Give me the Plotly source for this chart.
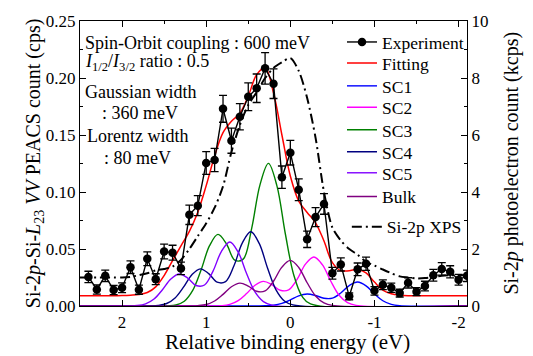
import plotly.graph_objects as go

# ---------------- data ----------------
exp_E = [2.4, 2.3, 2.2, 2.1, 2.0, 1.9, 1.8, 1.7, 1.6, 1.5, 1.4, 1.3, 1.2, 1.1, 1.0,
         0.9, 0.8, 0.7, 0.6, 0.5, 0.4, 0.3, 0.2, 0.1, 0.0, -0.1, -0.2, -0.3, -0.4,
         -0.5, -0.6, -0.7, -0.8, -0.9, -1.0, -1.1, -1.2, -1.3, -1.4, -1.5, -1.6,
         -1.7, -1.8, -1.9, -2.0, -2.1]
exp_I = [0.0255, 0.0145, 0.0265, 0.0140, 0.0160, 0.0340, 0.0143, 0.0415, 0.0235,
         0.0478, 0.0468, 0.0330, 0.0800, 0.0880, 0.1255, 0.1280, 0.1730, 0.1450,
         0.1660, 0.1835, 0.1910, 0.2085, 0.1950, 0.1130, 0.1345, 0.1020, 0.0585,
         0.0780, 0.0895, 0.0287, 0.0365, 0.0085, 0.0322, 0.0370, 0.0133, 0.0187,
         0.0160, 0.0113, 0.0203, 0.0126, 0.0175, 0.0270, 0.0325, 0.0300, 0.0230,
         0.0265]
exp_err = [0.0050, 0.0040, 0.0050, 0.0040, 0.0042, 0.0055, 0.0040, 0.0060, 0.0048,
           0.0065, 0.0065, 0.0055, 0.0085, 0.0088, 0.0100, 0.0102, 0.0118, 0.0110,
           0.0115, 0.0122, 0.0125, 0.0138, 0.0130, 0.0098, 0.0108, 0.0095, 0.0072,
           0.0083, 0.0090, 0.0052, 0.0058, 0.0030, 0.0055, 0.0058, 0.0037, 0.0043,
           0.0040, 0.0034, 0.0045, 0.0035, 0.0042, 0.0052, 0.0055, 0.0053, 0.0047,
           0.0050]

fit_E = [2.5, 2.4, 2.3, 2.2, 2.1, 2.0, 1.9, 1.8, 1.7, 1.6, 1.5, 1.4, 1.3, 1.2, 1.1,
         1.0, 0.9, 0.8, 0.7, 0.6, 0.5, 0.4, 0.3, 0.2, 0.1, 0.0, -0.1, -0.2, -0.3,
         -0.4, -0.5, -0.6, -0.7, -0.8, -0.9, -1.0, -1.1, -1.2, -1.3, -1.4, -1.5,
         -1.6, -1.7, -1.8, -1.9, -2.0, -2.1]
fit_I = [0.0090, 0.0090, 0.0090, 0.0090, 0.0090, 0.0092, 0.0095, 0.0100, 0.0118,
         0.0168, 0.0267, 0.0398, 0.0527, 0.0655, 0.0823, 0.1056, 0.1315, 0.1520,
         0.1620, 0.1690, 0.1840, 0.2030, 0.2090, 0.1870, 0.1500, 0.1140, 0.0920,
         0.0820, 0.0730, 0.0570, 0.0380, 0.0310, 0.0310, 0.0320, 0.0290, 0.0210,
         0.0140, 0.0108, 0.0095, 0.0090, 0.0090, 0.0090, 0.0090, 0.0090, 0.0090,
         0.0090, 0.0090]

sc1_E = [2.5, 0.4, 0.3, 0.2, 0.1, 0.0, -0.1, -0.2, -0.3, -0.4, -0.5, -0.6, -0.7,
         -0.8, -0.9, -1.0, -1.1, -1.2, -1.3, -2.1]
sc1_I = [0.0, 0.00003, 0.00016, 0.0007, 0.0023, 0.0053, 0.0089, 0.0105, 0.0092,
         0.0068, 0.0069, 0.0114, 0.0179, 0.0210, 0.0177, 0.0107, 0.0046, 0.0014,
         0.0003, 0.0]

sc2_E = [2.5, 0.92, 0.82, 0.72, 0.62, 0.52, 0.42, 0.32, 0.22, 0.12, 0.02, -0.08,
         -0.18, -0.28, -0.38, -0.48, -0.58, -0.68, -0.78, -2.1]
sc2_I = [0.0, 0.00005, 0.0003, 0.0014, 0.0047, 0.0109, 0.0182, 0.0216, 0.0188,
         0.0138, 0.0141, 0.0233, 0.0367, 0.0430, 0.0363, 0.0219, 0.0094, 0.0029,
         0.0006, 0.0]

sc3_E = [2.5, 1.46, 1.36, 1.26, 1.16, 1.06, 0.96, 0.86, 0.76, 0.66, 0.56, 0.46,
         0.36, 0.26, 0.16, 0.06, -0.04, -0.14, -0.24, -2.1]
sc3_I = [0.0, 0.00015, 0.0009, 0.0042, 0.0137, 0.0318, 0.0529, 0.0628, 0.0546,
         0.0402, 0.0411, 0.0679, 0.1065, 0.1251, 0.1056, 0.0636, 0.0274, 0.0084,
         0.0018, 0.0]

sc4_E = [2.5, 1.67, 1.57, 1.47, 1.37, 1.27, 1.17, 1.07, 0.97, 0.87, 0.77, 0.67,
         0.57, 0.47, 0.37, 0.27, 0.17, 0.07, -0.03, -2.1]
sc4_I = [0.0, 0.00008, 0.0005, 0.0022, 0.0071, 0.0165, 0.0275, 0.0326, 0.0284,
         0.0209, 0.0214, 0.0353, 0.0554, 0.0651, 0.0549, 0.0331, 0.0142, 0.0044,
         0.0010, 0.0]

sc5_E = [2.5, 1.92, 1.82, 1.72, 1.62, 1.52, 1.42, 1.32, 1.22, 1.12, 1.02, 0.92,
         0.82, 0.72, 0.62, 0.52, 0.42, 0.32, 0.22, -2.1]
sc5_I = [0.0, 0.00007, 0.0004, 0.0019, 0.0061, 0.0143, 0.0237, 0.0281, 0.0245,
         0.0180, 0.0184, 0.0304, 0.0477, 0.0561, 0.0473, 0.0285, 0.0123, 0.0038,
         0.0008, 0.0]

bulk_E = [2.5, 1.2, 1.1, 1.0, 0.9, 0.8, 0.7, 0.6, 0.5, 0.4, 0.3, 0.2, 0.1, 0.0,
          -0.1, -0.2, -0.3, -0.4, -0.5, -2.1]
bulk_I = [0.0, 0.00005, 0.0003, 0.0013, 0.0044, 0.0102, 0.0169, 0.0201, 0.0175,
          0.0129, 0.0132, 0.0217, 0.0341, 0.0400, 0.0338, 0.0204, 0.0088, 0.0027,
          0.0006, 0.0]

xps_E = [2.5, 2.4, 2.3, 2.2, 2.1, 2.0, 1.9, 1.8, 1.7, 1.6, 1.5, 1.4, 1.3, 1.2, 1.1,
         1.0, 0.9, 0.8, 0.7, 0.6, 0.5, 0.4, 0.3, 0.2, 0.1, 0.0, -0.1, -0.2, -0.3,
         -0.4, -0.5, -0.6, -0.7, -0.8, -0.9, -1.0, -1.1, -1.2, -1.3, -1.4, -1.5,
         -1.6, -1.7, -1.8, -1.9, -2.0, -2.1]
xps_kcps = [1.00, 1.00, 1.00, 1.00, 1.00, 1.00, 1.02, 1.08, 1.15, 1.25, 1.30, 1.38,
            1.62, 2.00, 2.45, 2.90, 3.45, 4.20, 5.40, 6.35, 7.05, 7.50, 8.00, 8.35,
            8.55, 8.70, 8.25, 7.30, 5.90, 4.00, 2.75, 2.30, 2.00, 1.80, 1.55, 1.42,
            1.28, 1.15, 1.04, 1.00, 0.97, 0.98, 1.02, 1.06, 1.08, 1.08, 1.08]

x_tickvals = [2, 1, 0, -1, -2]
x_ticktext = ["2", "1", "0", "-1", "-2"]

FONT = "Liberation Serif"
LEG_FONT = dict(family=FONT, size=17.5, color="black")

fig = go.Figure()

comp = [
    ("SC1", sc1_E, sc1_I, "#0000FF", "legend3"),
    ("SC2", sc2_E, sc2_I, "#FF00FF", "legend4"),
    ("SC3", sc3_E, sc3_I, "#008000", "legend5"),
    ("SC4", sc4_E, sc4_I, "#000080", "legend6"),
    ("SC5", sc5_E, sc5_I, "#8000FF", "legend7"),
    ("Bulk", bulk_E, bulk_I, "#800080", "legend8"),
]
for name, xe, yi, col, leg in comp:
    fig.add_trace(go.Scatter(x=xe, y=yi, mode="lines", name=name, legend=leg,
                             line=dict(color=col, width=1.4, shape="spline", smoothing=1.0)))

fig.add_trace(go.Scatter(x=fit_E, y=fit_I, mode="lines", name="Fitting", legend="legend2",
                         line=dict(color="#FF0000", width=1.5, shape="spline", smoothing=1.0)))

fig.add_trace(go.Scatter(x=exp_E, y=exp_I, mode="lines+markers", name="Experiment",
                         legend="legend",
                         line=dict(color="black", width=1.4),
                         marker=dict(color="black", size=8.5),
                         error_y=dict(type="data", array=exp_err, color="black",
                                      thickness=1.3, width=4)))

fig.add_trace(go.Scatter(x=xps_E, y=xps_kcps, mode="lines", name="Si-2p XPS",
                         yaxis="y2", legend="legend9",
                         line=dict(color="black", width=2, dash="10px,4px,2px,4px",
                                   shape="spline", smoothing=0.8)))

ann_lines = [
    ("Spin-Orbit coupling : 600 meV", 0.008, 0.923),
    ("<i>I</i><sub>1/2</sub>/<i>I</i><sub>3/2</sub> ratio : 0.5", 0.008, 0.853),
    ("Gaussian width", 0.008, 0.751),
    (": 360 meV", 0.052, 0.677),
    ("Lorentz width", 0.012, 0.596),
    (": 80 meV", 0.057, 0.519),
]
for txt, ax, ay in ann_lines:
    fig.add_annotation(text=txt, x=ax, y=ay, xref="paper", yref="paper",
                       xanchor="left", yanchor="middle", showarrow=False,
                       font=dict(family=FONT, size=18, color="black"))

# axis titles as annotations (exact placement)
fig.add_annotation(text="Relative binding energy (eV)", x=0.535, y=-0.128,
                   xref="paper", yref="paper", xanchor="center", yanchor="middle",
                   showarrow=False, font=dict(family=FONT, size=21, color="black"))
fig.add_annotation(text="Si-2<i>p</i>-Si-<i>L</i><sub>23</sub> <i>VV</i> PEACS count (cps)",
                   x=-0.117, y=0.5, xref="paper", yref="paper", textangle=-90,
                   xanchor="center", yanchor="middle", showarrow=False,
                   font=dict(family=FONT, size=20, color="black"))
fig.add_annotation(text="Si-2<i>p</i> photoelectron count (kcps)",
                   x=1.114, y=0.5, xref="paper", yref="paper", textangle=-90,
                   xanchor="center", yanchor="middle", showarrow=False,
                   font=dict(family=FONT, size=20, color="black"))

axis_common = dict(showline=True, linecolor="black", linewidth=1.3, ticks="inside",
                   tickcolor="black", tickwidth=1.2, ticklen=6, showgrid=False,
                   zeroline=False, automargin=False,
                   tickfont=dict(family=FONT, size=17, color="black"))

# legend row centres (paper fraction of plot height)
LX = 0.677
leg_rows = {"legend": (LX, 0.926), "legend2": (LX, 0.852),
            "legend3": (LX, 0.772), "legend4": (LX, 0.697),
            "legend5": (LX, 0.618), "legend6": (LX, 0.541),
            "legend7": (LX, 0.467), "legend8": (LX, 0.384),
            "legend9": (0.6895, 0.278)}
leg_layout = {}
for key, (lx, ly) in leg_rows.items():
    leg_layout[key] = dict(x=lx, y=ly, xanchor="left", yanchor="middle",
                           bgcolor="rgba(0,0,0,0)", borderwidth=0,
                           font=LEG_FONT, itemwidth=30)

# the page body adds an 8 px margin, so the figure is 8 px smaller than the window
fig.update_layout(
    width=525, height=348,
    margin=dict(l=72, r=66, t=13, b=50),
    paper_bgcolor="white", plot_bgcolor="white",
    font=dict(family=FONT, size=17, color="black"),
    xaxis=dict(range=[2.5, -2.1], tickmode="array", tickvals=x_tickvals,
               ticktext=x_ticktext, mirror="ticks",
               minor=dict(dtick=0.5, ticks="inside", ticklen=3, tickcolor="black", tickwidth=1.1),
               **axis_common),
    yaxis=dict(range=[0, 0.25], dtick=0.05, tickformat=".2f",
               minor=dict(dtick=0.025, ticks="inside", ticklen=3, tickcolor="black", tickwidth=1.1),
               **axis_common),
    yaxis2=dict(range=[0, 10], dtick=2, overlaying="y", side="right",
                minor=dict(dtick=1, ticks="inside", ticklen=3, tickcolor="black", tickwidth=1.1),
                **axis_common),
    showlegend=True,
    **leg_layout,
)

fig.write_html("out.html")
